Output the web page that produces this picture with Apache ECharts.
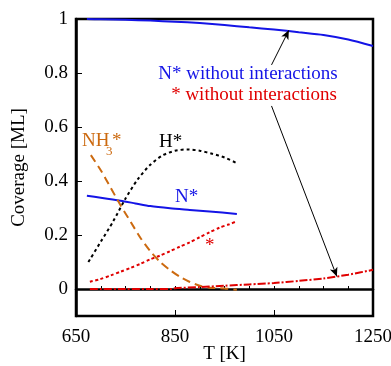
<!DOCTYPE html>
<html>
<head>
<meta charset="utf-8">
<script src="https://cdn.jsdelivr.net/npm/echarts@6/dist/echarts.min.js"></script>
<style>
html,body{margin:0;padding:0;background:#fff;}
#chart{width:391px;height:366px;}
</style>
</head>
<body>
<div id="chart"></div>
<script>
// 覆盖度随温度变化
var FONT = 'Liberation Serif';

// N* without interactions (蓝色实线，上方)
var tNfree = [672, 700, 750, 800, 850, 900, 950, 1000, 1050, 1100, 1150, 1200, 1250];
var nFree = [1.0, 0.999, 0.997, 0.994, 0.99, 0.985, 0.978, 0.969, 0.961, 0.951, 0.941, 0.924, 0.9];

// N*
var tN = [672, 700, 740, 770, 800, 840, 880, 920, 975];
var nCov = [0.345, 0.338, 0.327, 0.317, 0.307, 0.299, 0.293, 0.287, 0.278];

// H*
var tH = [675, 700, 725, 750, 775, 800, 825, 850, 875, 900, 925, 950, 975];
var hCov = [0.10, 0.175, 0.25, 0.335, 0.407, 0.46, 0.495, 0.512, 0.517, 0.512, 0.501, 0.487, 0.466];

// NH3*
var tNH3 = [680, 700, 720, 740, 760, 780, 800, 820, 840, 860, 880, 900, 920, 950, 975];
var nh3Cov = [0.496, 0.44, 0.375, 0.31, 0.25, 0.19, 0.14, 0.1, 0.07, 0.045, 0.026, 0.012, 0.005, 0.002, -0.003];

// * (空位)
var tStar = [678, 698, 720, 740, 760, 780, 800, 820, 840, 860, 880, 900, 920, 940, 960, 972];
var starCov = [0.027, 0.036, 0.05, 0.064, 0.078, 0.093, 0.11, 0.124, 0.14, 0.157, 0.173, 0.192, 0.21, 0.227, 0.24, 0.249];

// * without interactions
var tStarFree = [678, 700, 750, 800, 843, 850, 900, 950, 1000, 1050, 1100, 1150, 1200, 1250];
var starFree = [0, 0, 0, 0, 0, 0.003, 0.007, 0.012, 0.017, 0.022, 0.03, 0.039, 0.053, 0.071];

var xLabels = [650, 850, 1050, 1250];
var yLabels = [0, 0.2, 0.4, 0.6, 0.8, 1];

function pairs(xs, ys) {
    var out = [];
    for (var i = 0; i < xs.length; i++) {
        out.push([xs[i], ys[i]]);
    }
    return out;
}

var chart = echarts.init(document.getElementById('chart'));

function lineSeries(name, data, color, type) {
    return {
        name: name,
        type: 'line',
        data: data,
        smooth: 0.25,
        symbol: 'none',
        clip: false,
        lineStyle: { color: color, width: 2, type: type }
    };
}

var blueSeries = lineSeries('N* without interactions', pairs(tNfree, nFree), '#1414e6', 'solid');
// 两个箭头
blueSeries.markLine = {
    silent: true,
    symbol: ['none', 'arrow'],
    symbolSize: [6, 9],
    label: { show: false },
    lineStyle: { color: '#000', width: 1, type: 'solid' },
    data: [
        [{ coord: [1045, 0.83] }, { coord: [1080, 0.958] }],
        [{ coord: [1045, 0.678] }, { coord: [1177, 0.046] }]
    ]
};

var txt = function (text, x, y, color, size, align) {
    return {
        type: 'text',
        x: x,
        y: y,
        style: {
            text: text,
            fill: color,
            font: (size || 19) + 'px ' + FONT,
            textAlign: align || 'left',
            textVerticalAlign: 'middle'
        }
    };
};

chart.setOption({
    animation: false,
    grid: {
        left: 76, top: 19, right: 18, bottom: 50,
        show: true,
        borderColor: '#000',
        borderWidth: 2.5,
        containLabel: false,
        outerBoundsMode: 'none'
    },
    xAxis: [{
        type: 'value',
        min: 650, max: 1250, interval: 50,
        name: 'T [K]',
        nameLocation: 'middle',
        nameGap: 29,
        nameMoveOverlap: false,
        nameTextStyle: { color: '#000', fontFamily: FONT, fontSize: 19 },
        axisLine: { show: true, lineStyle: { color: '#000', width: 2.5 } },
        axisTick: { show: true, inside: true, length: 3, lineStyle: { color: '#000', width: 1 } },
        axisLabel: {
            customValues: xLabels,
            formatter: function (v) { return String(v); },
            color: '#000', fontFamily: FONT, fontSize: 19, margin: 12
        },
        splitLine: { show: false }
    }, {
        type: 'value',
        position: 'bottom',
        offset: 0,
        min: 650, max: 1250,
        axisLine: { show: false },
        axisTick: { show: true, inside: true, length: 6, customValues: [850, 1050], lineStyle: { color: '#000', width: 1 } },
        axisLabel: { show: false },
        splitLine: { show: false }
    }],
    yAxis: {
        type: 'value',
        min: -0.1, max: 1,
        name: 'Coverage [ML]',
        nameLocation: 'middle',
        nameGap: 47,
        nameMoveOverlap: false,
        nameTextStyle: { color: '#000', fontFamily: FONT, fontSize: 19 },
        axisLine: { show: true, lineStyle: { color: '#000', width: 2.5 } },
        axisTick: { show: true, inside: true, length: 6, customValues: yLabels, lineStyle: { color: '#000', width: 1 } },
        axisLabel: {
            customValues: yLabels,
            formatter: function (v) { return v === 0 ? '0' : v === 1 ? '1' : v.toFixed(1); },
            color: '#000', fontFamily: FONT, fontSize: 19, margin: 8
        },
        splitLine: { show: false }
    },
    series: [
        blueSeries,
        lineSeries('N*', pairs(tN, nCov), '#1414e6', 'solid'),
        lineSeries('H*', pairs(tH, hCov), '#000', [3, 3]),
        lineSeries('NH3*', pairs(tNH3, nh3Cov), '#cc6a10', [8, 5]),
        lineSeries('*', pairs(tStar, starCov), '#e00000', [3, 2.5]),
        lineSeries('* without interactions', pairs(tStarFree, starFree), '#e00000', [8, 2, 2, 2])
    ],
    graphic: [
        txt('N* without interactions', 248, 74, '#1414e6', 19, 'center'),
        txt('* without interactions', 254, 95, '#e00000', 19, 'center'),
        txt('NH', 82, 141, '#cc6a10'),
        txt('3', 106, 152, '#cc6a10', 13),
        txt('*', 112, 141, '#cc6a10'),
        txt('H*', 159, 142, '#000'),
        txt('N*', 175, 197, '#1414e6'),
        txt('*', 205, 246, '#e00000')
    ]
});
</script>
</body>
</html>
